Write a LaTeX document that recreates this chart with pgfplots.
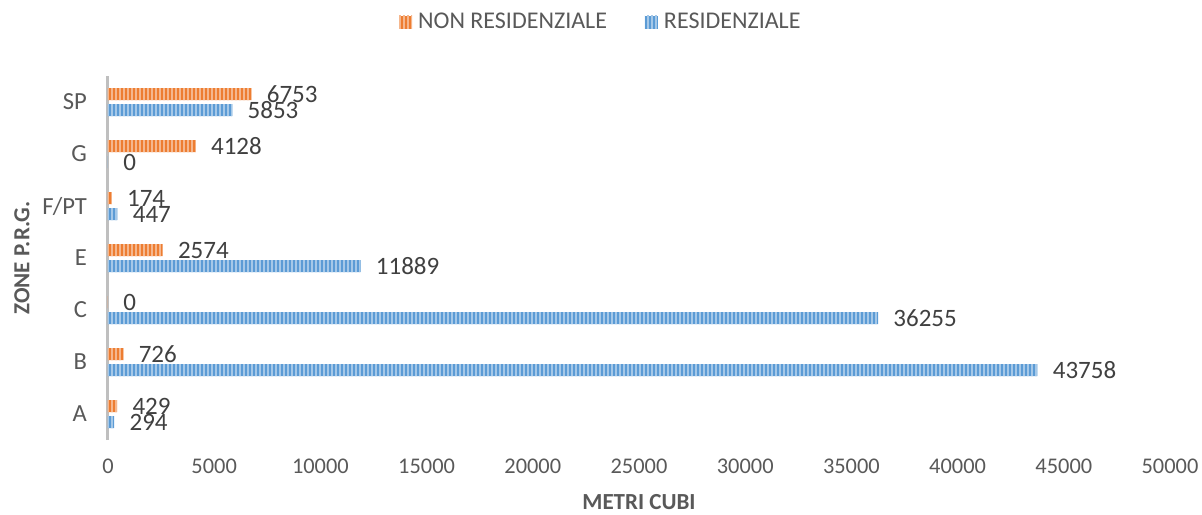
\documentclass[border=0pt]{standalone}
\usepackage{fontspec}
\setmainfont{Carlito}
\usepackage{pgfplots}
\pgfplotsset{compat=1.18}
\usetikzlibrary{patterns.meta}
\definecolor{orng}{HTML}{ED7D31}
\definecolor{blu}{HTML}{5B9BD5}
\definecolor{txt}{HTML}{595959}
\definecolor{lbl}{HTML}{404040}
\begin{document}
\begin{tikzpicture}
\begin{axis}[
  name=ax,
  scale only axis, width=531pt, height=182pt,
  xbar=2pt, bar width=6pt,
  xmin=0, xmax=50000, ymin=-0.5, ymax=6.5,
  xtick={0,5000,...,50000},
  ytick={0,1,2,3,4,5,6}, yticklabels={A,B,C,E,F/PT,G,SP},
  scaled x ticks=false,
  /pgf/number format/assume math mode=true,
  x tick label style={/pgf/number format/fixed, /pgf/number format/1000 sep={}},
  axis lines=left,
  x axis line style={draw=none},
  y axis line style={draw=black!25, line width=1.5pt, -},
  major tick length=0pt,
  tick style={draw=none},
  xticklabel style={font=\fontsize{11.2}{13}\selectfont, text=txt, yshift=-6pt},
  yticklabel style={font=\fontsize{12.3}{14}\selectfont, text=txt, xshift=-7pt},
  xlabel={METRI CUBI},
  ylabel={ZONE P.R.G.},
  xlabel style={font=\bfseries\fontsize{11.5}{13}\selectfont, text=txt, inner sep=1pt, at={(axis description cs:0.5,-0.17)}, anchor=center},
  ylabel style={font=\bfseries\fontsize{11.5}{13}\selectfont, text=txt, at={(axis description cs:-0.081,0.5)}, anchor=center},
  point meta=x,
  nodes near coords={\pgfmathprintnumber[fixed,precision=0,1000 sep={}]{\pgfplotspointmeta}},
  nodes near coords style={font=\fontsize{12.5}{14}\selectfont, text=lbl, anchor=west, inner sep=0pt, xshift=7.5pt},
  legend style={at={(0.465,1.148)}, anchor=center, draw=none, legend columns=2,
    font=\fontsize{12}{14}\selectfont, text=txt,
    /tikz/every even column/.append style={column sep=17pt},
    /tikz/every odd column/.append style={column sep=1pt}},
  legend cell align=left,
  reverse legend,
  legend image code/.code={\path[#1] (0pt,-3.25pt) rectangle (6.5pt,3.25pt);},
]
\addplot[draw=none, fill=blu, postaction={pattern={Lines[angle=90,distance=2pt,line width=0.6pt]}, pattern color=blu!55!white}]
  coordinates {(294,0) (43758,1) (36255,2) (11889,3) (447,4) (0,5) (5853,6)};
\addlegendentry{RESIDENZIALE}
\addplot[draw=none, fill=orng, postaction={pattern={Lines[angle=90,distance=2pt,line width=0.6pt]}, pattern color=orng!55!white}]
  coordinates {(429,0) (726,1) (0,2) (2574,3) (174,4) (4128,5) (6753,6)};
\addlegendentry{NON RESIDENZIALE}
\end{axis}
\pgfresetboundingbox
\path[use as bounding box] ([xshift=-54pt,yshift=-37pt]ax.south west) rectangle ([xshift=16pt,yshift=38pt]ax.north east);
\end{tikzpicture}
\end{document}
